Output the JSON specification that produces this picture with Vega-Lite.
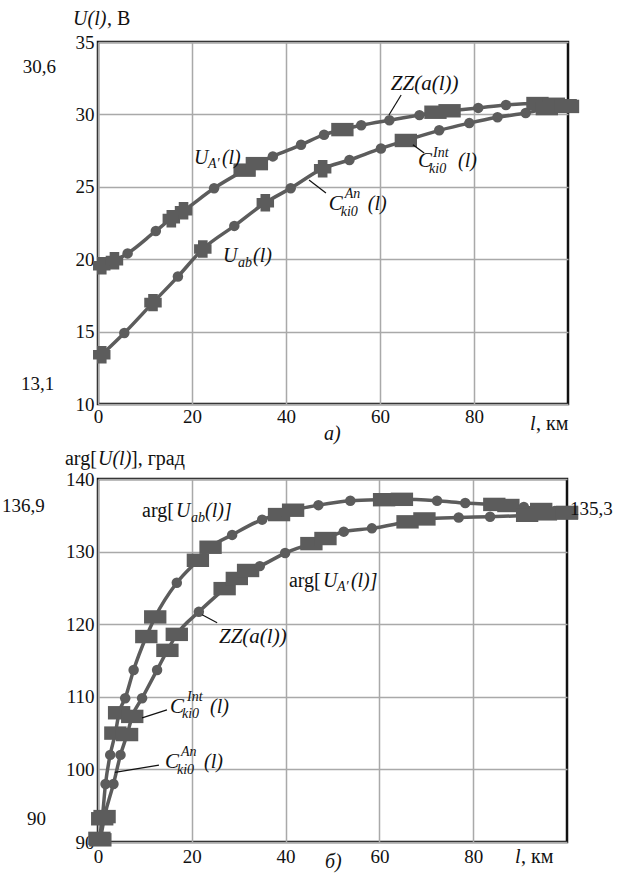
{
  "$schema": "https://vega.github.io/schema/vega-lite/v6.json",
  "padding": {"left": 0, "top": 7, "right": 0, "bottom": 0},
  "spacing": 75,
  "bounds": "flush",
  "datasets": {
    "curves": [
      {"panel": "a", "curve": "UA", "l": 0.8, "v": 19.55, "method": "An"},
      {"panel": "a", "curve": "UA", "l": 3.5, "v": 19.9, "method": "An"},
      {"panel": "a", "curve": "UA", "l": 6.3, "v": 20.4, "method": "ZZ"},
      {"panel": "a", "curve": "UA", "l": 12.3, "v": 21.95, "method": "ZZ"},
      {"panel": "a", "curve": "UA", "l": 15.6, "v": 22.8, "method": "An"},
      {"panel": "a", "curve": "UA", "l": 18.2, "v": 23.35, "method": "An"},
      {"panel": "a", "curve": "UA", "l": 24.7, "v": 24.9, "method": "ZZ"},
      {"panel": "a", "curve": "UA", "l": 31.2, "v": 26.15, "method": "Int"},
      {"panel": "a", "curve": "UA", "l": 33.8, "v": 26.6, "method": "Int"},
      {"panel": "a", "curve": "UA", "l": 37.2, "v": 27.1, "method": "ZZ"},
      {"panel": "a", "curve": "UA", "l": 43.2, "v": 27.9, "method": "ZZ"},
      {"panel": "a", "curve": "UA", "l": 48.1, "v": 28.6, "method": "ZZ"},
      {"panel": "a", "curve": "UA", "l": 52, "v": 28.95, "method": "Int"},
      {"panel": "a", "curve": "UA", "l": 56, "v": 29.25, "method": "ZZ"},
      {"panel": "a", "curve": "UA", "l": 62, "v": 29.6, "method": "ZZ"},
      {"panel": "a", "curve": "UA", "l": 68.4, "v": 29.95, "method": "ZZ"},
      {"panel": "a", "curve": "UA", "l": 71.8, "v": 30.15, "method": "Int"},
      {"panel": "a", "curve": "UA", "l": 74.8, "v": 30.25, "method": "Int"},
      {"panel": "a", "curve": "UA", "l": 80.9, "v": 30.45, "method": "ZZ"},
      {"panel": "a", "curve": "UA", "l": 86.8, "v": 30.65, "method": "ZZ"},
      {"panel": "a", "curve": "UA", "l": 93.5, "v": 30.75, "method": "Int"},
      {"panel": "a", "curve": "UA", "l": 97, "v": 30.7, "method": "Int"},
      {"panel": "a", "curve": "UA", "l": 100, "v": 30.55, "method": "Int"},
      {"panel": "a", "curve": "Uab", "l": 0.8, "v": 13.4, "method": "An"},
      {"panel": "a", "curve": "Uab", "l": 5.6, "v": 14.9, "method": "ZZ"},
      {"panel": "a", "curve": "Uab", "l": 11.7, "v": 17.0, "method": "An"},
      {"panel": "a", "curve": "Uab", "l": 17, "v": 18.8, "method": "ZZ"},
      {"panel": "a", "curve": "Uab", "l": 22.3, "v": 20.7, "method": "An"},
      {"panel": "a", "curve": "Uab", "l": 29, "v": 22.3, "method": "ZZ"},
      {"panel": "a", "curve": "Uab", "l": 35.6, "v": 23.9, "method": "An"},
      {"panel": "a", "curve": "Uab", "l": 41, "v": 24.9, "method": "ZZ"},
      {"panel": "a", "curve": "Uab", "l": 47.8, "v": 26.25, "method": "An"},
      {"panel": "a", "curve": "Uab", "l": 53.5, "v": 26.85, "method": "ZZ"},
      {"panel": "a", "curve": "Uab", "l": 60.2, "v": 27.65, "method": "ZZ"},
      {"panel": "a", "curve": "Uab", "l": 65.5, "v": 28.2, "method": "Int"},
      {"panel": "a", "curve": "Uab", "l": 72.6, "v": 28.9, "method": "ZZ"},
      {"panel": "a", "curve": "Uab", "l": 79, "v": 29.4, "method": "ZZ"},
      {"panel": "a", "curve": "Uab", "l": 85, "v": 29.8, "method": "ZZ"},
      {"panel": "a", "curve": "Uab", "l": 91, "v": 30.1, "method": "ZZ"},
      {"panel": "a", "curve": "Uab", "l": 95.5, "v": 30.4, "method": "Int"},
      {"panel": "a", "curve": "Uab", "l": 99.5, "v": 30.6, "method": "Int"},
      {"panel": "b", "curve": "Uab", "l": 0.3, "v": 90.5, "method": "Int"},
      {"panel": "b", "curve": "Uab", "l": 0.9, "v": 93.2, "method": "Int"},
      {"panel": "b", "curve": "Uab", "l": 1.6, "v": 98, "method": "ZZ"},
      {"panel": "b", "curve": "Uab", "l": 2.6, "v": 102, "method": "ZZ"},
      {"panel": "b", "curve": "Uab", "l": 3.7, "v": 105, "method": "Int"},
      {"panel": "b", "curve": "Uab", "l": 4.5, "v": 107.8, "method": "Int"},
      {"panel": "b", "curve": "Uab", "l": 5.8, "v": 109.8, "method": "ZZ"},
      {"panel": "b", "curve": "Uab", "l": 7.6, "v": 113.7, "method": "ZZ"},
      {"panel": "b", "curve": "Uab", "l": 10.3, "v": 118.3, "method": "Int"},
      {"panel": "b", "curve": "Uab", "l": 12.2, "v": 121, "method": "Int"},
      {"panel": "b", "curve": "Uab", "l": 16.8, "v": 125.7, "method": "ZZ"},
      {"panel": "b", "curve": "Uab", "l": 21.3, "v": 128.8, "method": "Int"},
      {"panel": "b", "curve": "Uab", "l": 24, "v": 130.6, "method": "Int"},
      {"panel": "b", "curve": "Uab", "l": 28.6, "v": 132.3, "method": "ZZ"},
      {"panel": "b", "curve": "Uab", "l": 35, "v": 134.4, "method": "ZZ"},
      {"panel": "b", "curve": "Uab", "l": 38.6, "v": 135.1, "method": "Int"},
      {"panel": "b", "curve": "Uab", "l": 41.6, "v": 135.7, "method": "Int"},
      {"panel": "b", "curve": "Uab", "l": 47, "v": 136.4, "method": "ZZ"},
      {"panel": "b", "curve": "Uab", "l": 53.8, "v": 137, "method": "ZZ"},
      {"panel": "b", "curve": "Uab", "l": 61, "v": 137.15, "method": "Int"},
      {"panel": "b", "curve": "Uab", "l": 64.8, "v": 137.2, "method": "Int"},
      {"panel": "b", "curve": "Uab", "l": 72.3, "v": 137, "method": "ZZ"},
      {"panel": "b", "curve": "Uab", "l": 78.3, "v": 136.7, "method": "ZZ"},
      {"panel": "b", "curve": "Uab", "l": 84.5, "v": 136.5, "method": "Int"},
      {"panel": "b", "curve": "Uab", "l": 87.5, "v": 136.35, "method": "Int"},
      {"panel": "b", "curve": "Uab", "l": 90.8, "v": 136.15, "method": "ZZ"},
      {"panel": "b", "curve": "Uab", "l": 94.5, "v": 135.8, "method": "Int"},
      {"panel": "b", "curve": "Uab", "l": 97.4, "v": 135.6, "method": "ZZ"},
      {"panel": "b", "curve": "Uab", "l": 100, "v": 135.4, "method": "Int"},
      {"panel": "b", "curve": "UA", "l": 0.5, "v": 90.3, "method": "Int"},
      {"panel": "b", "curve": "UA", "l": 1.4, "v": 93.5, "method": "Int"},
      {"panel": "b", "curve": "UA", "l": 3.3, "v": 98, "method": "ZZ"},
      {"panel": "b", "curve": "UA", "l": 4.8, "v": 102, "method": "ZZ"},
      {"panel": "b", "curve": "UA", "l": 6.2, "v": 104.8, "method": "Int"},
      {"panel": "b", "curve": "UA", "l": 7.3, "v": 107.3, "method": "Int"},
      {"panel": "b", "curve": "UA", "l": 9.4, "v": 109.8, "method": "ZZ"},
      {"panel": "b", "curve": "UA", "l": 12.6, "v": 113.7, "method": "ZZ"},
      {"panel": "b", "curve": "UA", "l": 14.8, "v": 116.4, "method": "Int"},
      {"panel": "b", "curve": "UA", "l": 16.8, "v": 118.6, "method": "Int"},
      {"panel": "b", "curve": "UA", "l": 21.5, "v": 121.7, "method": "ZZ"},
      {"panel": "b", "curve": "UA", "l": 27, "v": 124.9, "method": "Int"},
      {"panel": "b", "curve": "UA", "l": 29.6, "v": 126.3, "method": "Int"},
      {"panel": "b", "curve": "UA", "l": 32, "v": 127.4, "method": "Int"},
      {"panel": "b", "curve": "UA", "l": 34.5, "v": 128, "method": "ZZ"},
      {"panel": "b", "curve": "UA", "l": 39.9, "v": 129.8, "method": "ZZ"},
      {"panel": "b", "curve": "UA", "l": 45.5, "v": 131.1, "method": "Int"},
      {"panel": "b", "curve": "UA", "l": 48.5, "v": 131.8, "method": "Int"},
      {"panel": "b", "curve": "UA", "l": 52.4, "v": 132.75, "method": "ZZ"},
      {"panel": "b", "curve": "UA", "l": 58.4, "v": 133.2, "method": "ZZ"},
      {"panel": "b", "curve": "UA", "l": 66, "v": 134.1, "method": "Int"},
      {"panel": "b", "curve": "UA", "l": 69.6, "v": 134.5, "method": "Int"},
      {"panel": "b", "curve": "UA", "l": 76.9, "v": 134.7, "method": "ZZ"},
      {"panel": "b", "curve": "UA", "l": 83.6, "v": 134.8, "method": "ZZ"},
      {"panel": "b", "curve": "UA", "l": 91.5, "v": 135, "method": "Int"},
      {"panel": "b", "curve": "UA", "l": 95.5, "v": 135.2, "method": "Int"},
      {"panel": "b", "curve": "UA", "l": 100, "v": 135.3, "method": "Int"}
    ]
  },
  "vconcat": [
    {
      "width": 470,
      "height": 362,
      "view": {"stroke": "#111111", "strokeWidth": 2.5},
      "data": {"values": [{}]},
      "layer": [
        {
          "data": {"name": "curves"},
          "transform": [{"filter": "datum.panel == 'a'"}],
          "mark": {"type": "line", "interpolate": "monotone", "color": "#5c5c5c", "strokeWidth": 3.5},
          "encoding": {
            "x": {"field": "l", "type": "quantitative", "scale": {"domain": [0, 100], "nice": false}, "axis": {"values": [0, 20, 40, 60, 80], "title": null, "grid": true, "gridColor": "#a9a9a9", "gridWidth": 1.5, "domain": false, "ticks": false, "labelColor": "#111111", "labelFlush": false, "labelPadding": 3, "labelFont": "Liberation Serif", "labelFontSize": 19}},
            "y": {"field": "v", "type": "quantitative", "scale": {"domain": [10, 35], "nice": false, "zero": false}, "axis": {"values": [10, 15, 20, 25, 30, 35], "title": null, "grid": true, "gridColor": "#a9a9a9", "gridWidth": 1.5, "domain": false, "ticks": false, "labelColor": "#111111", "labelPadding": 4, "labelFont": "Liberation Serif", "labelFontSize": 19}},
            "detail": {"field": "curve"},
            "order": {"field": "l"}
          }
        },
        {
          "data": {"name": "curves"},
          "transform": [{"filter": "datum.panel == 'a'"}],
          "mark": {"type": "point", "filled": true, "opacity": 1, "color": "#5c5c5c"},
          "encoding": {
            "x": {"field": "l", "type": "quantitative"},
            "y": {"field": "v", "type": "quantitative"},
            "shape": {"field": "method", "type": "nominal", "scale": {"domain": ["ZZ", "An", "Int"], "range": ["circle", "M-0.55,-1H0.55V-0.55H1V0.55H0.55V1H-0.55V0.55H-1V-0.55H-0.55Z", "M-1,-0.6H1V0.6H-1Z"]}, "legend": null},
            "size": {"field": "method", "type": "ordinal", "scale": {"domain": ["ZZ", "An", "Int"], "range": [110, 500, 560]}, "legend": null}
          }
        },
        {"mark": {"type": "rule", "color": "#111111", "strokeWidth": 1.2}, "encoding": {"x": {"datum": 64.5, "type": "quantitative"}, "y": {"datum": 31.34, "type": "quantitative"}, "x2": {"datum": 61.9}, "y2": {"datum": 29.96}}},
        {"mark": {"type": "rule", "color": "#111111", "strokeWidth": 1.2}, "encoding": {"x": {"datum": 67.0, "type": "quantitative"}, "y": {"datum": 27.9, "type": "quantitative"}, "x2": {"datum": 69.4}, "y2": {"datum": 27.33}}},
        {"mark": {"type": "rule", "color": "#111111", "strokeWidth": 1.2}, "encoding": {"x": {"datum": 44.9, "type": "quantitative"}, "y": {"datum": 25.47, "type": "quantitative"}, "x2": {"datum": 48.5}, "y2": {"datum": 24.57}}},
        {"mark": {"type": "text", "font": "Liberation Serif", "fontSize": 20, "fontStyle": "italic", "align": "left", "baseline": "alphabetic", "color": "#111111"}, "encoding": {"x": {"datum": 20.4, "type": "quantitative"}, "y": {"datum": 26.57, "type": "quantitative"}, "text": {"value": "U"}}},
        {"mark": {"type": "text", "font": "Liberation Serif", "fontSize": 14, "fontStyle": "italic", "align": "left", "baseline": "alphabetic", "color": "#111111", "dx": 14, "dy": 4}, "encoding": {"x": {"datum": 20.4, "type": "quantitative"}, "y": {"datum": 26.57, "type": "quantitative"}, "text": {"value": "A′"}}},
        {"mark": {"type": "text", "font": "Liberation Serif", "fontSize": 20, "fontStyle": "italic", "align": "left", "baseline": "alphabetic", "color": "#111111", "dx": 28}, "encoding": {"x": {"datum": 20.4, "type": "quantitative"}, "y": {"datum": 26.57, "type": "quantitative"}, "text": {"value": "(l)"}}},
        {"mark": {"type": "text", "font": "Liberation Serif", "fontSize": 21, "fontStyle": "italic", "align": "left", "baseline": "alphabetic", "color": "#111111"}, "encoding": {"x": {"datum": 62.3, "type": "quantitative"}, "y": {"datum": 31.68, "type": "quantitative"}, "text": {"value": "ZZ(a(l))"}}},
        {"mark": {"type": "text", "font": "Liberation Serif", "fontSize": 21, "fontStyle": "italic", "align": "left", "baseline": "alphabetic", "color": "#111111"}, "encoding": {"x": {"datum": 68.1, "type": "quantitative"}, "y": {"datum": 26.37, "type": "quantitative"}, "text": {"value": "C"}}},
        {"mark": {"type": "text", "font": "Liberation Serif", "fontSize": 14, "fontStyle": "italic", "align": "left", "baseline": "alphabetic", "color": "#111111", "dx": 15, "dy": -10}, "encoding": {"x": {"datum": 68.1, "type": "quantitative"}, "y": {"datum": 26.37, "type": "quantitative"}, "text": {"value": "Int"}}},
        {"mark": {"type": "text", "font": "Liberation Serif", "fontSize": 14, "fontStyle": "italic", "align": "left", "baseline": "alphabetic", "color": "#111111", "dx": 11, "dy": 6}, "encoding": {"x": {"datum": 68.1, "type": "quantitative"}, "y": {"datum": 26.37, "type": "quantitative"}, "text": {"value": "ki0"}}},
        {"mark": {"type": "text", "font": "Liberation Serif", "fontSize": 20, "fontStyle": "italic", "align": "left", "baseline": "alphabetic", "color": "#111111", "dx": 40}, "encoding": {"x": {"datum": 68.1, "type": "quantitative"}, "y": {"datum": 26.37, "type": "quantitative"}, "text": {"value": "(l)"}}},
        {"mark": {"type": "text", "font": "Liberation Serif", "fontSize": 21, "fontStyle": "italic", "align": "left", "baseline": "alphabetic", "color": "#111111"}, "encoding": {"x": {"datum": 49.1, "type": "quantitative"}, "y": {"datum": 23.4, "type": "quantitative"}, "text": {"value": "C"}}},
        {"mark": {"type": "text", "font": "Liberation Serif", "fontSize": 14, "fontStyle": "italic", "align": "left", "baseline": "alphabetic", "color": "#111111", "dx": 16, "dy": -12}, "encoding": {"x": {"datum": 49.1, "type": "quantitative"}, "y": {"datum": 23.4, "type": "quantitative"}, "text": {"value": "An"}}},
        {"mark": {"type": "text", "font": "Liberation Serif", "fontSize": 14, "fontStyle": "italic", "align": "left", "baseline": "alphabetic", "color": "#111111", "dx": 12, "dy": 6}, "encoding": {"x": {"datum": 49.1, "type": "quantitative"}, "y": {"datum": 23.4, "type": "quantitative"}, "text": {"value": "ki0"}}},
        {"mark": {"type": "text", "font": "Liberation Serif", "fontSize": 20, "fontStyle": "italic", "align": "left", "baseline": "alphabetic", "color": "#111111", "dx": 39}, "encoding": {"x": {"datum": 49.1, "type": "quantitative"}, "y": {"datum": 23.4, "type": "quantitative"}, "text": {"value": "(l)"}}},
        {"mark": {"type": "text", "font": "Liberation Serif", "fontSize": 20, "fontStyle": "italic", "align": "left", "baseline": "alphabetic", "color": "#111111"}, "encoding": {"x": {"datum": 26.6, "type": "quantitative"}, "y": {"datum": 19.81, "type": "quantitative"}, "text": {"value": "U"}}},
        {"mark": {"type": "text", "font": "Liberation Serif", "fontSize": 14, "fontStyle": "italic", "align": "left", "baseline": "alphabetic", "color": "#111111", "dx": 15, "dy": 5}, "encoding": {"x": {"datum": 26.6, "type": "quantitative"}, "y": {"datum": 19.81, "type": "quantitative"}, "text": {"value": "ab"}}},
        {"mark": {"type": "text", "font": "Liberation Serif", "fontSize": 20, "fontStyle": "italic", "align": "left", "baseline": "alphabetic", "color": "#111111", "dx": 30}, "encoding": {"x": {"datum": 26.6, "type": "quantitative"}, "y": {"datum": 19.81, "type": "quantitative"}, "text": {"value": "(l)"}}},
        {"mark": {"type": "text", "font": "Liberation Serif", "fontSize": 20, "fontStyle": "italic", "align": "left", "baseline": "alphabetic", "color": "#111111"}, "encoding": {"x": {"datum": 48.1, "type": "quantitative"}, "y": {"datum": 7.51, "type": "quantitative"}, "text": {"value": "а)"}}},
        {"mark": {"type": "text", "font": "Liberation Serif", "fontSize": 19, "align": "left", "baseline": "alphabetic", "color": "#111111"}, "encoding": {"x": {"datum": -16.0, "type": "quantitative"}, "y": {"datum": 32.86, "type": "quantitative"}, "text": {"value": "30,6"}}},
        {"mark": {"type": "text", "font": "Liberation Serif", "fontSize": 19, "align": "left", "baseline": "alphabetic", "color": "#111111"}, "encoding": {"x": {"datum": -16.4, "type": "quantitative"}, "y": {"datum": 10.97, "type": "quantitative"}, "text": {"value": "13,1"}}},
        {"mark": {"type": "text", "font": "Liberation Serif", "fontSize": 20, "fontStyle": "italic", "align": "left", "baseline": "alphabetic", "color": "#111111"}, "encoding": {"x": {"datum": -5.3, "type": "quantitative"}, "y": {"datum": 36.17, "type": "quantitative"}, "text": {"value": "U(l)"}}},
        {"mark": {"type": "text", "font": "Liberation Serif", "fontSize": 20, "align": "left", "baseline": "alphabetic", "color": "#111111", "dx": 34}, "encoding": {"x": {"datum": -5.3, "type": "quantitative"}, "y": {"datum": 36.17, "type": "quantitative"}, "text": {"value": ", В"}}},
        {"mark": {"type": "text", "font": "Liberation Serif", "fontSize": 20, "fontStyle": "italic", "align": "left", "baseline": "alphabetic", "color": "#111111"}, "encoding": {"x": {"datum": 91.9, "type": "quantitative"}, "y": {"datum": 8.2, "type": "quantitative"}, "text": {"value": "l"}}},
        {"mark": {"type": "text", "font": "Liberation Serif", "fontSize": 20, "align": "left", "baseline": "alphabetic", "color": "#111111", "dx": 6}, "encoding": {"x": {"datum": 91.9, "type": "quantitative"}, "y": {"datum": 8.2, "type": "quantitative"}, "text": {"value": ", км"}}}
      ]
    },
    {
      "width": 469,
      "height": 363,
      "view": {"stroke": "#111111", "strokeWidth": 2.5},
      "data": {"values": [{}]},
      "layer": [
        {
          "data": {"name": "curves"},
          "transform": [{"filter": "datum.panel == 'b'"}],
          "mark": {"type": "line", "interpolate": "monotone", "color": "#5c5c5c", "strokeWidth": 3.5},
          "encoding": {
            "x": {"field": "l", "type": "quantitative", "scale": {"domain": [0, 100], "nice": false}, "axis": {"values": [0, 20, 40, 60, 80], "title": null, "grid": true, "gridColor": "#a9a9a9", "gridWidth": 1.5, "domain": false, "ticks": false, "labelColor": "#111111", "labelFlush": false, "labelPadding": 5, "labelFont": "Liberation Serif", "labelFontSize": 19}},
            "y": {"field": "v", "type": "quantitative", "scale": {"domain": [90, 140], "nice": false, "zero": false}, "axis": {"values": [90, 100, 110, 120, 130, 140], "title": null, "grid": true, "gridColor": "#a9a9a9", "gridWidth": 1.5, "domain": false, "ticks": false, "labelColor": "#111111", "labelPadding": 4, "labelFont": "Liberation Serif", "labelFontSize": 19}},
            "detail": {"field": "curve"},
            "order": {"field": "l"}
          }
        },
        {
          "data": {"name": "curves"},
          "transform": [{"filter": "datum.panel == 'b'"}],
          "mark": {"type": "point", "filled": true, "opacity": 1, "color": "#5c5c5c"},
          "encoding": {
            "x": {"field": "l", "type": "quantitative"},
            "y": {"field": "v", "type": "quantitative"},
            "shape": {"field": "method", "type": "nominal", "scale": {"domain": ["ZZ", "An", "Int"], "range": ["circle", "M-0.55,-1H0.55V-0.55H1V0.55H0.55V1H-0.55V0.55H-1V-0.55H-0.55Z", "M-1,-0.6H1V0.6H-1Z"]}, "legend": null},
            "size": {"field": "method", "type": "ordinal", "scale": {"domain": ["ZZ", "An", "Int"], "range": [110, 500, 560]}, "legend": null}
          }
        },
        {"mark": {"type": "rule", "color": "#111111", "strokeWidth": 1.2}, "encoding": {"x": {"datum": 22.2, "type": "quantitative"}, "y": {"datum": 121.3, "type": "quantitative"}, "x2": {"datum": 25.4}, "y2": {"datum": 120.2}}},
        {"mark": {"type": "rule", "color": "#111111", "strokeWidth": 1.2}, "encoding": {"x": {"datum": 9.4, "type": "quantitative"}, "y": {"datum": 107.1, "type": "quantitative"}, "x2": {"datum": 14.7}, "y2": {"datum": 108.2}}},
        {"mark": {"type": "rule", "color": "#111111", "strokeWidth": 1.2}, "encoding": {"x": {"datum": 3.6, "type": "quantitative"}, "y": {"datum": 99.6, "type": "quantitative"}, "x2": {"datum": 13.0}, "y2": {"datum": 100.6}}},
        {"mark": {"type": "text", "font": "Liberation Serif", "fontSize": 20, "align": "left", "baseline": "alphabetic", "color": "#111111"}, "encoding": {"x": {"datum": 9.4, "type": "quantitative"}, "y": {"datum": 134.77, "type": "quantitative"}, "text": {"value": "arg["}}},
        {"mark": {"type": "text", "font": "Liberation Serif", "fontSize": 20, "fontStyle": "italic", "align": "left", "baseline": "alphabetic", "color": "#111111", "dx": 34}, "encoding": {"x": {"datum": 9.4, "type": "quantitative"}, "y": {"datum": 134.77, "type": "quantitative"}, "text": {"value": "U"}}},
        {"mark": {"type": "text", "font": "Liberation Serif", "fontSize": 14, "fontStyle": "italic", "align": "left", "baseline": "alphabetic", "color": "#111111", "dx": 49, "dy": 5}, "encoding": {"x": {"datum": 9.4, "type": "quantitative"}, "y": {"datum": 134.77, "type": "quantitative"}, "text": {"value": "ab"}}},
        {"mark": {"type": "text", "font": "Liberation Serif", "fontSize": 20, "fontStyle": "italic", "align": "left", "baseline": "alphabetic", "color": "#111111", "dx": 63}, "encoding": {"x": {"datum": 9.4, "type": "quantitative"}, "y": {"datum": 134.77, "type": "quantitative"}, "text": {"value": "(l)]"}}},
        {"mark": {"type": "text", "font": "Liberation Serif", "fontSize": 20, "align": "left", "baseline": "alphabetic", "color": "#111111"}, "encoding": {"x": {"datum": 40.7, "type": "quantitative"}, "y": {"datum": 125.1, "type": "quantitative"}, "text": {"value": "arg["}}},
        {"mark": {"type": "text", "font": "Liberation Serif", "fontSize": 20, "fontStyle": "italic", "align": "left", "baseline": "alphabetic", "color": "#111111", "dx": 34}, "encoding": {"x": {"datum": 40.7, "type": "quantitative"}, "y": {"datum": 125.1, "type": "quantitative"}, "text": {"value": "U"}}},
        {"mark": {"type": "text", "font": "Liberation Serif", "fontSize": 14, "fontStyle": "italic", "align": "left", "baseline": "alphabetic", "color": "#111111", "dx": 48, "dy": 4}, "encoding": {"x": {"datum": 40.7, "type": "quantitative"}, "y": {"datum": 125.1, "type": "quantitative"}, "text": {"value": "A′"}}},
        {"mark": {"type": "text", "font": "Liberation Serif", "fontSize": 20, "fontStyle": "italic", "align": "left", "baseline": "alphabetic", "color": "#111111", "dx": 62}, "encoding": {"x": {"datum": 40.7, "type": "quantitative"}, "y": {"datum": 125.1, "type": "quantitative"}, "text": {"value": "(l)]"}}},
        {"mark": {"type": "text", "font": "Liberation Serif", "fontSize": 21, "fontStyle": "italic", "align": "left", "baseline": "alphabetic", "color": "#111111"}, "encoding": {"x": {"datum": 25.8, "type": "quantitative"}, "y": {"datum": 117.4, "type": "quantitative"}, "text": {"value": "ZZ(a(l))"}}},
        {"mark": {"type": "text", "font": "Liberation Serif", "fontSize": 21, "fontStyle": "italic", "align": "left", "baseline": "alphabetic", "color": "#111111"}, "encoding": {"x": {"datum": 15.35, "type": "quantitative"}, "y": {"datum": 107.77, "type": "quantitative"}, "text": {"value": "C"}}},
        {"mark": {"type": "text", "font": "Liberation Serif", "fontSize": 14, "fontStyle": "italic", "align": "left", "baseline": "alphabetic", "color": "#111111", "dx": 17, "dy": -12}, "encoding": {"x": {"datum": 15.35, "type": "quantitative"}, "y": {"datum": 107.77, "type": "quantitative"}, "text": {"value": "Int"}}},
        {"mark": {"type": "text", "font": "Liberation Serif", "fontSize": 14, "fontStyle": "italic", "align": "left", "baseline": "alphabetic", "color": "#111111", "dx": 12, "dy": 5}, "encoding": {"x": {"datum": 15.35, "type": "quantitative"}, "y": {"datum": 107.77, "type": "quantitative"}, "text": {"value": "ki0"}}},
        {"mark": {"type": "text", "font": "Liberation Serif", "fontSize": 20, "fontStyle": "italic", "align": "left", "baseline": "alphabetic", "color": "#111111", "dx": 40}, "encoding": {"x": {"datum": 15.35, "type": "quantitative"}, "y": {"datum": 107.77, "type": "quantitative"}, "text": {"value": "(l)"}}},
        {"mark": {"type": "text", "font": "Liberation Serif", "fontSize": 21, "fontStyle": "italic", "align": "left", "baseline": "alphabetic", "color": "#111111"}, "encoding": {"x": {"datum": 14.29, "type": "quantitative"}, "y": {"datum": 100.19, "type": "quantitative"}, "text": {"value": "C"}}},
        {"mark": {"type": "text", "font": "Liberation Serif", "fontSize": 14, "fontStyle": "italic", "align": "left", "baseline": "alphabetic", "color": "#111111", "dx": 16, "dy": -12}, "encoding": {"x": {"datum": 14.29, "type": "quantitative"}, "y": {"datum": 100.19, "type": "quantitative"}, "text": {"value": "An"}}},
        {"mark": {"type": "text", "font": "Liberation Serif", "fontSize": 14, "fontStyle": "italic", "align": "left", "baseline": "alphabetic", "color": "#111111", "dx": 12, "dy": 6}, "encoding": {"x": {"datum": 14.29, "type": "quantitative"}, "y": {"datum": 100.19, "type": "quantitative"}, "text": {"value": "ki0"}}},
        {"mark": {"type": "text", "font": "Liberation Serif", "fontSize": 20, "fontStyle": "italic", "align": "left", "baseline": "alphabetic", "color": "#111111", "dx": 39}, "encoding": {"x": {"datum": 14.29, "type": "quantitative"}, "y": {"datum": 100.19, "type": "quantitative"}, "text": {"value": "(l)"}}},
        {"mark": {"type": "text", "font": "Liberation Serif", "fontSize": 20, "fontStyle": "italic", "align": "left", "baseline": "alphabetic", "color": "#111111"}, "encoding": {"x": {"datum": 48.4, "type": "quantitative"}, "y": {"datum": 86.4, "type": "quantitative"}, "text": {"value": "б)"}}},
        {"mark": {"type": "text", "font": "Liberation Serif", "fontSize": 19, "align": "left", "baseline": "alphabetic", "color": "#111111"}, "encoding": {"x": {"datum": -20.47, "type": "quantitative"}, "y": {"datum": 135.45, "type": "quantitative"}, "text": {"value": "136,9"}}},
        {"mark": {"type": "text", "font": "Liberation Serif", "fontSize": 19, "align": "left", "baseline": "alphabetic", "color": "#111111"}, "encoding": {"x": {"datum": 100.64, "type": "quantitative"}, "y": {"datum": 135.04, "type": "quantitative"}, "text": {"value": "135,3"}}},
        {"mark": {"type": "text", "font": "Liberation Serif", "fontSize": 19, "align": "left", "baseline": "alphabetic", "color": "#111111"}, "encoding": {"x": {"datum": -15.14, "type": "quantitative"}, "y": {"datum": 92.34, "type": "quantitative"}, "text": {"value": "90"}}},
        {"mark": {"type": "text", "font": "Liberation Serif", "fontSize": 20, "align": "left", "baseline": "alphabetic", "color": "#111111"}, "encoding": {"x": {"datum": -7.04, "type": "quantitative"}, "y": {"datum": 141.93, "type": "quantitative"}, "text": {"value": "arg["}}},
        {"mark": {"type": "text", "font": "Liberation Serif", "fontSize": 20, "fontStyle": "italic", "align": "left", "baseline": "alphabetic", "color": "#111111", "dx": 33}, "encoding": {"x": {"datum": -7.04, "type": "quantitative"}, "y": {"datum": 141.93, "type": "quantitative"}, "text": {"value": "U(l)"}}},
        {"mark": {"type": "text", "font": "Liberation Serif", "fontSize": 20, "align": "left", "baseline": "alphabetic", "color": "#111111", "dx": 66}, "encoding": {"x": {"datum": -7.04, "type": "quantitative"}, "y": {"datum": 141.93, "type": "quantitative"}, "text": {"value": "], град"}}},
        {"mark": {"type": "text", "font": "Liberation Serif", "fontSize": 20, "fontStyle": "italic", "align": "left", "baseline": "alphabetic", "color": "#111111"}, "encoding": {"x": {"datum": 88.9, "type": "quantitative"}, "y": {"datum": 87.1, "type": "quantitative"}, "text": {"value": "l"}}},
        {"mark": {"type": "text", "font": "Liberation Serif", "fontSize": 20, "align": "left", "baseline": "alphabetic", "color": "#111111", "dx": 6}, "encoding": {"x": {"datum": 88.9, "type": "quantitative"}, "y": {"datum": 87.1, "type": "quantitative"}, "text": {"value": ", км"}}}
      ]
    }
  ]
}
